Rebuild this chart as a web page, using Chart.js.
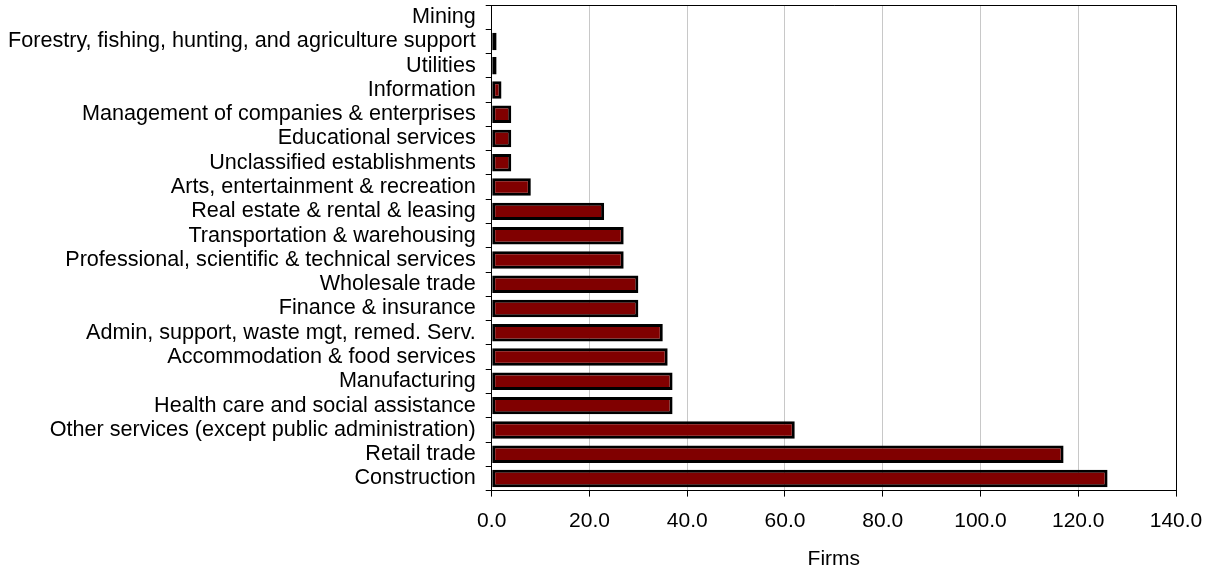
<!DOCTYPE html>
<html>
<head>
<meta charset="utf-8">
<script src="https://cdn.jsdelivr.net/npm/chart.js@4/dist/chart.umd.min.js"></script>
<style>
  html, body { margin: 0; padding: 0; background: #fff; }
  #wrap { width: 1209px; height: 569px; position: relative; }
</style>
</head>
<body>
<div id="wrap"><canvas id="chartFirms"></canvas></div>
<script>
// Jumlah firma per sektor industri
const industries = [
    "Mining",
    "Forestry, fishing, hunting, and agriculture support",
    "Utilities",
    "Information",
    "Management of companies & enterprises",
    "Educational services",
    "Unclassified establishments",
    "Arts, entertainment & recreation",
    "Real estate & rental & leasing",
    "Transportation & warehousing",
    "Professional, scientific & technical services",
    "Wholesale trade",
    "Finance & insurance",
    "Admin, support, waste mgt, remed. Serv.",
    "Accommodation & food services",
    "Manufacturing",
    "Health care and social assistance",
    "Other services (except public administration)",
    "Retail trade",
    "Construction",
];
const firms = [0, 1, 1, 2, 4, 4, 4, 8, 23, 27, 27, 30, 30, 35, 36, 37, 37, 62, 117, 126];
const xTicks = [0, 20, 40, 60, 80, 100, 120, 140];

const fontArial = { family: "Liberation Sans, Arial, sans-serif", size: 21 };
const fontLabel = { family: "Liberation Sans, Arial, sans-serif", size: 21.6 };

// garis kotak atas & kanan area plot
const frameBox = {
    id: "frameBox",
    afterDraw(chart) {
        const { ctx, chartArea: a } = chart;
        ctx.save();
        ctx.strokeStyle = "#000";
        ctx.lineWidth = 1;
        ctx.beginPath();
        ctx.moveTo(a.left, a.top + 0.5);
        ctx.lineTo(a.right + 0.5, a.top + 0.5);
        ctx.lineTo(a.right + 0.5, a.bottom);
        ctx.stroke();
        ctx.restore();
    },
};

document.addEventListener("DOMContentLoaded", function () {
    const el = document.getElementById("chartFirms");
    new Chart(el, {
        type: "bar",
        data: {
            labels: industries,
            datasets: [{
                label: "Firms",
                data: firms,
                backgroundColor: "#800000",
                borderColor: "#000000",
                borderWidth: 3,
                borderSkipped: false,
                categoryPercentage: 1.0,
                barPercentage: 0.72,
            }],
        },
        options: {
            indexAxis: "y",
            responsive: true,
            maintainAspectRatio: false,
            animation: false,
            layout: { padding: { top: 5, right: 33, bottom: -3, left: -2 } },
            plugins: {
                legend: { display: false },
                tooltip: { enabled: false },
            },
            scales: {
                x: {
                    min: 0,
                    max: 140,
                    afterBuildTicks: (axis) => { axis.ticks = xTicks.map(v => ({ value: v })); },
                    // ruang kanan diatur lewat layout.padding saja
                    afterFit: (scale) => { scale.paddingLeft = 0; scale.paddingRight = 0; },
                    grid: {
                        color: "#c8c8c8",
                        tickColor: "#000",
                        tickLength: 6,
                    },
                    border: { color: "#000", width: 1 },
                    ticks: {
                        color: "#000",
                        font: fontArial,
                        padding: 12,
                        maxRotation: 0,
                        callback: (v) => Number(v).toFixed(1),
                    },
                    title: {
                        display: true,
                        text: "Firms",
                        color: "#000",
                        font: fontArial,
                        padding: { top: 1, bottom: 0 },
                    },
                },
                y: {
                    // label kategori tidak perlu ruang ekstra di atas/bawah
                    afterFit: (scale) => { scale.paddingTop = 0; scale.paddingBottom = 0; },
                    grid: {
                        drawOnChartArea: false,
                        tickColor: "#000",
                        tickLength: 6,
                    },
                    border: { color: "#000", width: 1 },
                    ticks: {
                        color: "#000",
                        font: fontLabel,
                        padding: 10,
                        autoSkip: false,
                    },
                },
            },
        },
        plugins: [frameBox],
    });
});
</script>
</body>
</html>
